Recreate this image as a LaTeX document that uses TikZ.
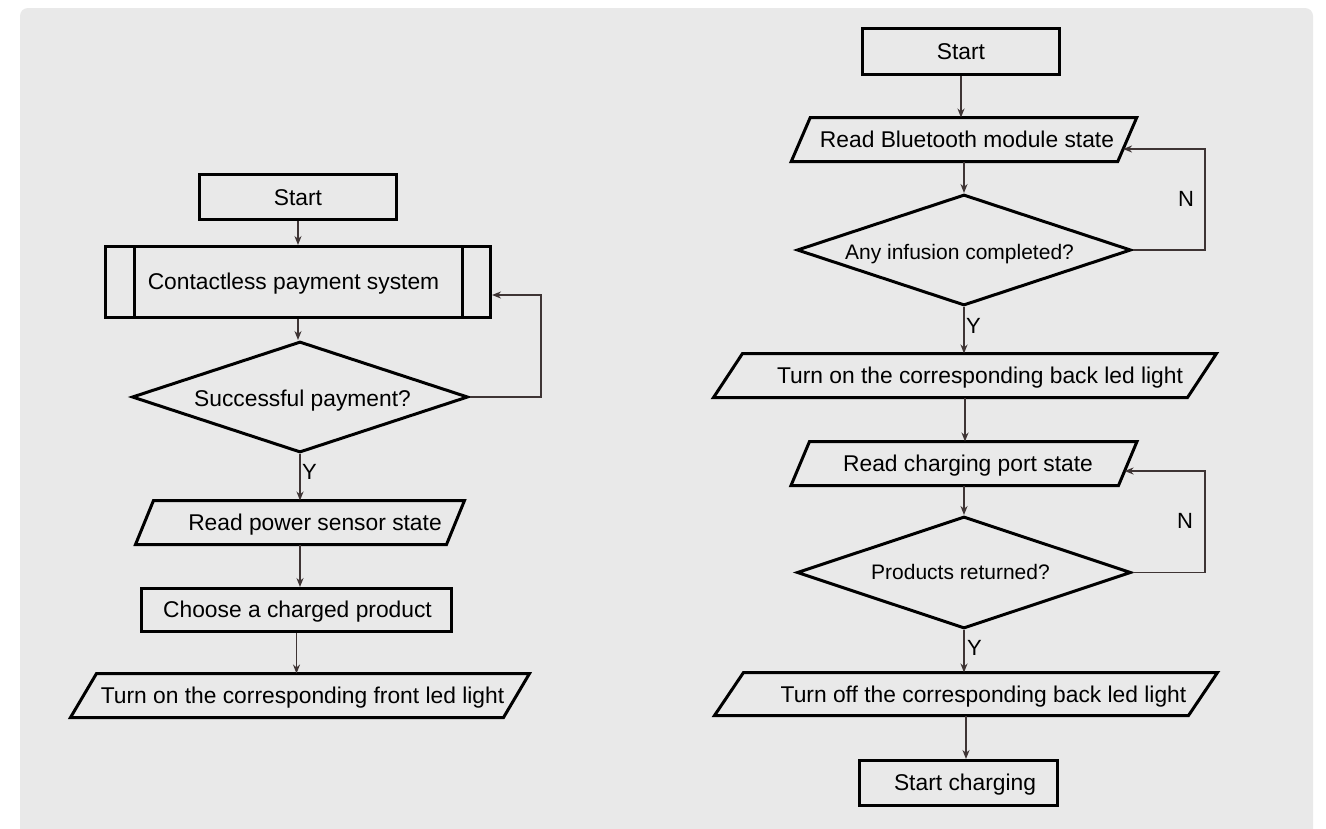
\documentclass[tikz,border=0pt]{standalone}
\usepackage{fontspec}
\setmainfont{Liberation Sans}
\usetikzlibrary{shapes.geometric,arrows.meta,calc}
\definecolor{bgc}{RGB}{233,233,233}
\definecolor{arc}{RGB}{62,52,52}
\newcommand\ioshape[6]{%
 \node[iob, minimum width=#4pt, minimum height=#5pt] (#1) at (#2,#3) {};
 \draw[shp] ($(#1.south west)+(-#6/2,0)$) coordinate (#1-sw) -- ($(#1.north west)+(#6/2,0)$) coordinate (#1-nw) -- ($(#1.north east)+(#6/2,0)$) coordinate (#1-ne) -- ($(#1.south east)+(-#6/2,0)$) coordinate (#1-se) -- cycle;}
\tikzset{
 shp/.style={draw=black, line width=3pt, line join=miter},
 box/.style={shp, rectangle, inner sep=0pt},
 dia/.style={shp, diamond, inner sep=0pt},
 iob/.style={rectangle, inner sep=0pt, outer sep=0pt},
 txt/.style={font=\fontsize{22.8}{27}\selectfont, inner sep=0pt, anchor=base},
 dtxt/.style={txt, font=\fontsize{21}{25}\selectfont},
 lbl/.style={font=\fontsize{22}{26}\selectfont, inner sep=0pt, anchor=base},
 flow/.style={draw=arc, line width=1.5pt, -{Stealth[length=9pt,width=7pt]}}
}
\begin{document}
\begin{tikzpicture}[x=1pt, y=-1pt]
\useasboundingbox (0,0) rectangle (1326,828);
\clip (0,0) rectangle (1326,828);
\fill[white] (0,0) rectangle (1326,828);
\fill[bgc, rounded corners=8pt] (20,8) rectangle (1313,860);

% ---------- left flow ----------
\node[box, minimum width=197pt, minimum height=45pt] (startL) at (298,197) {};
\node[txt] (startL-t) at (298,205) {Start};

\node[box, minimum width=385pt, minimum height=71pt] (cps) at (298,282) {};
\draw[shp] ([xshift=30pt]cps.north west) -- ([xshift=30pt]cps.south west);
\draw[shp] ([xshift=-30pt]cps.north east) -- ([xshift=-30pt]cps.south east);
\node[txt] (cps-t) at (293.5,289) {Contactless payment system};

\node[dia, minimum width=336pt, minimum height=111pt] (dec1) at (300,397) {};
\node[txt] (dec1-t) at (302.5,406) {Successful payment?};
\node[lbl, anchor=base west] (y0) at (302,479) {Y};

\ioshape{rps}{300}{522.5}{311}{44}{18}
\node[txt] (rps-t) at (315,530) {Read power sensor state};

\node[box, minimum width=310pt, minimum height=43pt] (choose) at (296.5,610) {};
\node[txt] (choose-t) at (297.5,617) {Choose a charged product};

\ioshape{tf}{300}{695.5}{433}{44}{26}
\node[txt] (tf-t) at (302.5,703) {Turn on the corresponding front led light};

\draw[flow] (startL.south) -- (startL.south |- cps.north);
\draw[flow] (cps.south) -- (cps.south |- dec1.north);
\draw[flow] (dec1.south) -- (dec1.south |- rps.north);
\draw[flow] (rps.south) -- (rps.south |- choose.north);
\draw[flow] (choose.south) -- (choose.south |- tf.north);
\coordinate (l1) at (541,295);
\draw[flow] (dec1.east) -| (l1) -- (l1 -| cps.east);

% ---------- right flow ----------
\node[box, minimum width=197pt, minimum height=46pt] (startR) at (961,51.5) {};
\node[txt] (startR-t) at (961,59) {Start};

\ioshape{bt}{964}{139.5}{326.5}{44}{19}
\node[txt] (bt-t) at (967,147) {Read Bluetooth module state};

\node[dia, minimum width=334pt, minimum height=111pt] (dec2) at (964,250) {};
\node[dtxt] (dec2-t) at (959.5,259) {Any infusion completed?};
\node[lbl, anchor=base west] (y1) at (966,333) {Y};
\node[lbl] (n1) at (1186,206) {N};

\ioshape{ton}{965}{375.5}{474}{44}{29}
\node[txt] (ton-t) at (980,383) {Turn on the corresponding back led light};

\ioshape{rcp}{964}{463.5}{327.5}{44}{18.5}
\node[txt] (rcp-t) at (968,471) {Read charging port state};

\node[dia, minimum width=334pt, minimum height=112pt] (dec3) at (964,572.5) {};
\node[dtxt] (dec3-t) at (960.5,579) {Products returned?};
\node[lbl, anchor=base west] (y2) at (967,655) {Y};
\node[lbl] (n2) at (1185,528) {N};

\ioshape{toff}{966}{694}{474}{43}{29}
\node[txt] (toff-t) at (983.5,702) {Turn off the corresponding back led light};

\node[box, minimum width=198pt, minimum height=45pt] (sc) at (958.5,783) {};
\node[txt] (sc-t) at (965,790) {Start charging};

\draw[flow] (startR.south) -- (startR.south |- bt.north);
\draw[flow] (bt.south) -- (bt.south |- dec2.north);
\draw[flow] (dec2.south) -- (dec2.south |- ton.north);
\draw[flow] (ton.south) -- (ton.south |- rcp.north);
\draw[flow] (rcp.south) -- (rcp.south |- dec3.north);
\draw[flow] (dec3.south) -- (dec3.south |- toff.north);
\draw[flow] (toff.south) -- (toff.south |- sc.north);

\coordinate (r1) at (1205,149);
\coordinate (bt-in) at ($(bt-se)!0.28!(bt-ne)$);
\draw[flow] (dec2.east) -| (r1) -- (r1 -| bt-in);
\coordinate (r2) at (1205,471);
\coordinate (rcp-in) at ($(rcp-se)!0.33!(rcp-ne)$);
\draw[flow] (dec3.east) -| (r2) -- (r2 -| rcp-in);
\end{tikzpicture}
\end{document}
